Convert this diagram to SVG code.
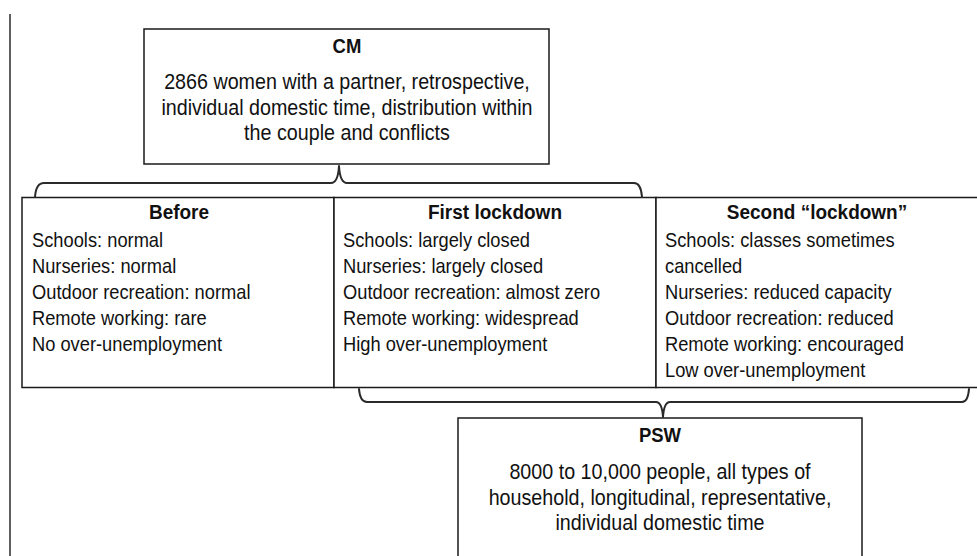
<svg xmlns="http://www.w3.org/2000/svg" width="977" height="556" viewBox="0 0 977 556">
<style>
.box{fill:#fff;stroke:#1a1a1a;stroke-width:1.5}
.t{font-family:"Liberation Sans",Arial,sans-serif;fill:#111;transform-box:fill-box;transform-origin:50% 60%;transform:scaleY(1.08)}
.h{font-weight:bold;font-size:19px;text-anchor:middle}
.b{font-size:18.3px}
.c{font-size:19.7px;text-anchor:middle}
.brace{fill:none;stroke:#2a2a2a;stroke-width:2;stroke-linejoin:round;stroke-linecap:round}
</style>
<rect width="977" height="556" fill="#fff"/>
<line x1="10" y1="14" x2="10" y2="556" stroke="#1a1a1a" stroke-width="1.4"/>
<g id="cm">
<rect class="box" x="144" y="29" width="405" height="135"/>
<text class="t h" x="347" y="53" style="font-size:18.5px">CM</text>
<text class="t c" x="347" y="89">2866 women with a partner, retrospective,</text>
<text class="t c" x="347" y="114.5">individual domestic time, distribution within</text>
<text class="t c" x="347" y="140">the couple and conflicts</text>
</g>
<g id="before">
<rect class="box" x="22" y="197.5" width="312" height="190"/>
<text class="t h" x="179" y="219">Before</text>
<text class="t b" x="32" y="247">Schools: normal</text>
<text class="t b" x="32" y="273">Nurseries: normal</text>
<text class="t b" x="32" y="299">Outdoor recreation: normal</text>
<text class="t b" x="32" y="325">Remote working: rare</text>
<text class="t b" x="32" y="351">No over-unemployment</text>
</g>
<g id="first">
<rect class="box" x="334" y="197.5" width="322" height="190"/>
<text class="t h" x="495" y="219">First lockdown</text>
<text class="t b" x="343" y="247">Schools: largely closed</text>
<text class="t b" x="343" y="273">Nurseries: largely closed</text>
<text class="t b" x="343" y="299">Outdoor recreation: almost zero</text>
<text class="t b" x="343" y="325">Remote working: widespread</text>
<text class="t b" x="343" y="351">High over-unemployment</text>
</g>
<g id="second">
<rect class="box" x="656" y="197.5" width="340" height="190"/>
<text class="t h" x="817" y="219">Second “lockdown”</text>
<text class="t b" x="665" y="247">Schools: classes sometimes</text>
<text class="t b" x="665" y="273">cancelled</text>
<text class="t b" x="665" y="299">Nurseries: reduced capacity</text>
<text class="t b" x="665" y="325">Outdoor recreation: reduced</text>
<text class="t b" x="665" y="351">Remote working: encouraged</text>
<text class="t b" x="665" y="377">Low over-unemployment</text>
</g>
<g id="psw">
<rect class="box" x="458" y="418" width="404" height="150"/>
<text class="t h" x="660" y="442" style="font-size:18.5px">PSW</text>
<text class="t c" x="660" y="479">8000 to 10,000 people, all types of</text>
<text class="t c" x="660" y="504.5">household, longitudinal, representative,</text>
<text class="t c" x="660" y="530">individual domestic time</text>
</g>
<g id="connectors">
<path class="brace" d="M35 197 Q36 183 44 183 L331 183 Q338 183 339 166 Q340 183 347 183 L634 183 Q641 183 642 197"/>
<path class="brace" d="M359 389 Q360 402 367 402 L656 402 Q662 402 663 417 Q664 402 670 402 L962 402 Q968 402 969 389"/>
</g>
</svg>
